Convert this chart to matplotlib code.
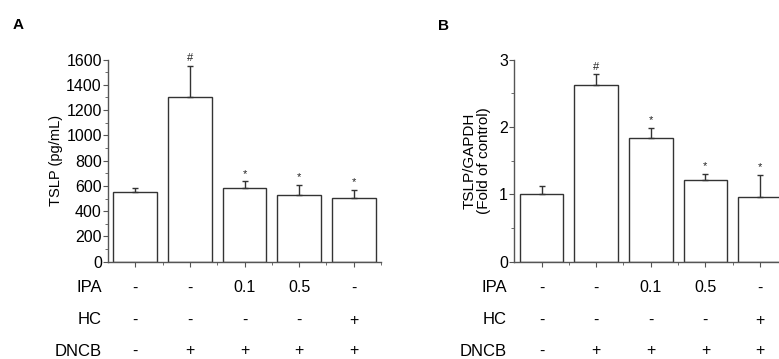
import matplotlib.pyplot as plt
import matplotlib.transforms as mtransforms
from matplotlib.ticker import MultipleLocator

plt.rcParams['font.family'] = ['Liberation Sans', 'DejaVu Sans']

# data
groups = [0, 1, 2, 3, 4]
tslp_protein = [555, 1300, 585, 530, 508]
tslp_protein_err = [28, 250, 50, 78, 60]
tslp_mrna = [1.01, 2.62, 1.83, 1.21, 0.96]
tslp_mrna_err = [0.12, 0.16, 0.15, 0.09, 0.33]
marks = ['', '#', '*', '*', '*']

row_names = ['IPA', 'HC', 'DNCB']
ipa_row = ['-', '-', '0.1', '0.5', '-']
hc_row = ['-', '-', '-', '-', '+']
dncb_row = ['-', '+', '+', '+', '+']

W, H = 779, 359
fig = plt.figure(figsize=(W / 100, H / 100), dpi=100)

edge = '#333333'
axis_col = '#555555'


def draw_panel(ax, vals, errs, ymax, major, minor):
    ax.bar(groups, vals, width=0.8, color='white', edgecolor=edge, linewidth=1.0)
    ax.errorbar(groups, vals, yerr=[[0] * len(errs), errs], fmt='none',
                ecolor=edge, elinewidth=1.0, capsize=2.5, capthick=1.0)
    for g, v, e, m in zip(groups, vals, errs, marks):
        ax.annotate(m, (g, v + e), xytext=(0, 2), textcoords='offset points',
                    ha='center', va='bottom', fontsize=8, color='#222222')
    ax.set_xlim(-0.5, 4.5)
    ax.set_ylim(0, ymax)
    ax.yaxis.set_major_locator(MultipleLocator(major))
    ax.yaxis.set_minor_locator(MultipleLocator(minor))
    ax.set_xticks(groups)
    ax.set_xticks([0.5, 1.5, 2.5, 3.5, 4.5], minor=True)
    ax.set_xticklabels([])
    for s in ['top', 'right']:
        ax.spines[s].set_visible(False)
    for s in ['left', 'bottom']:
        ax.spines[s].set_color(axis_col)
        ax.spines[s].set_linewidth(1.0)
    ax.tick_params(which='major', direction='out', length=3.5, width=0.8,
                   color=axis_col, labelsize=11.5, pad=1)
    ax.tick_params(which='minor', direction='out', length=2, width=0.6,
                   color=axis_col)


def draw_rows(ax, label_x):
    tr = mtransforms.blended_transform_factory(ax.transData, fig.transFigure)
    rows = [ipa_row, hc_row, dncb_row]
    ys = [(H - 288) / H, (H - 320) / H, (H - 351) / H]
    for name, row, y in zip(row_names, rows, ys):
        fig.text(label_x / W, y, name, ha='right', va='center', fontsize=12)
        for g, t in zip(groups, row):
            ax.text(g, y, t, transform=tr, ha='center', va='center', fontsize=11.5)


bottom = (H - 261.7) / H
height = (261.7 - 59.5) / H
width = 273 / W

axA = fig.add_axes([108 / W, bottom, width, height])
draw_panel(axA, tslp_protein, tslp_protein_err, 1600, 200, 100)
axA.set_ylabel('TSLP (pg/mL)', fontsize=10.5, labelpad=2)
draw_rows(axA, 102)

axB = fig.add_axes([514.3 / W, bottom, width, height])
draw_panel(axB, tslp_mrna, tslp_mrna_err, 3, 1, 0.5)
axB.set_ylabel('TSLP/GAPDH\n(Fold of control)', fontsize=11, labelpad=6,
               linespacing=1.0)
draw_rows(axB, 507)

fig.text(13 / W, (H - 25) / H, 'A', fontsize=11, fontweight='bold', va='center')
fig.text(438 / W, (H - 25.5) / H, 'B', fontsize=11, fontweight='bold', va='center')

fig.savefig('out.png', dpi=100)
